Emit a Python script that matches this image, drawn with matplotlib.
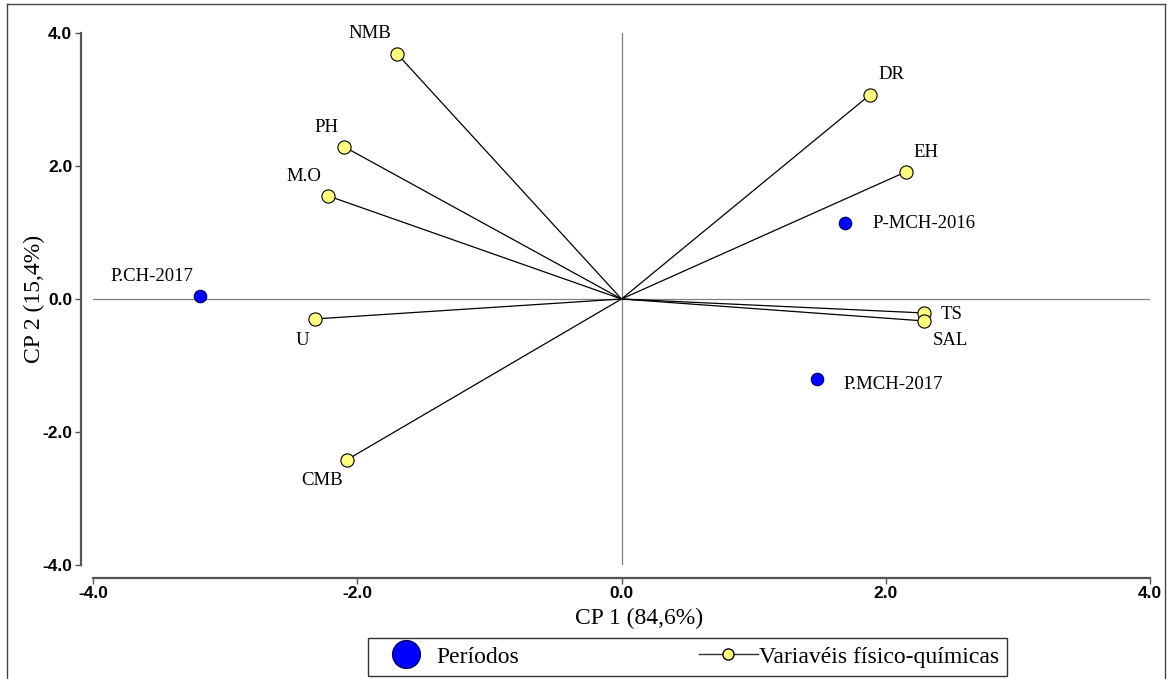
import matplotlib.pyplot as plt
from matplotlib.lines import Line2D

# Scores dos períodos (CP1, CP2)
periodos = ['P.CH-2017', 'P-MCH-2016', 'P.MCH-2017']
per_cp1 = [-3.19, 1.69, 1.48]
per_cp2 = [0.05, 1.14, -1.20]

# Cargas das variáveis físico-químicas (CP1, CP2)
variaveis = ['NMB', 'PH', 'M.O', 'U', 'CMB', 'DR', 'EH', 'TS', 'SAL']
var_cp1 = [-1.70, -2.10, -2.22, -2.32, -2.08, 1.88, 2.15, 2.29, 2.29]
var_cp2 = [3.69, 2.29, 1.55, -0.30, -2.42, 3.07, 1.91, -0.21, -0.33]

ticks = [-4.0, -2.0, 0.0, 2.0, 4.0]

# deslocamento dos rótulos em pixels
off_var = [(-27, 20), (-18, 19), (-24, 19), (-13, -22), (-25, -21),
           (22, 20), (20, 19), (27, -2), (26, -20)]
off_per = [(-48, 19), (79, 0), (76, -6)]

serif = ['Liberation Serif', 'DejaVu Serif']
sans = ['Liberation Sans', 'DejaVu Sans']

fig = plt.figure(figsize=(11.68, 6.79), dpi=100)
ax = fig.add_axes([93 / 1168, 1 - 565 / 679, (1150 - 93) / 1168, (565 - 33) / 679])

# eixos deslocados para fora (antes de configurar os ticks)
for s in ['top', 'right']:
    ax.spines[s].set_visible(False)
for s in ['left', 'bottom']:
    ax.spines[s].set_position(('outward', 9))
    ax.spines[s].set_color('#555555')
    ax.spines[s].set_linewidth(1.6)

ax.axhline(0, color='#808080', lw=0.9, zorder=1)
ax.axvline(0, color='#808080', lw=0.9, zorder=1)

for x, y in zip(var_cp1, var_cp2):
    ax.plot([0, x], [0, y], color='black', lw=0.9, zorder=2)
ax.plot(var_cp1, var_cp2, 'o', ms=9.5, mfc='#ffff80', mec='black', mew=0.8,
        ls='none', zorder=3)
ax.plot(per_cp1, per_cp2, 'o', ms=9, mfc='#0000ff', mec='#000060', mew=0.8,
        ls='none', zorder=3)

for nome, x, y, off in zip(variaveis, var_cp1, var_cp2, off_var):
    ax.annotate(nome, (x, y), xytext=off, textcoords='offset pixels',
                ha='center', va='center', fontsize=13.5, family=serif)
for nome, x, y, off in zip(periodos, per_cp1, per_cp2, off_per):
    ax.annotate(nome, (x, y), xytext=off, textcoords='offset pixels',
                ha='center', va='center', fontsize=13.5, family=serif)

ax.set_xlim(-4, 4)
ax.set_ylim(-4, 4)
ax.set_xticks(ticks)
ax.set_yticks(ticks)
ax.set_xticklabels([f'{t:.1f}' for t in ticks], family=sans, fontweight='bold', fontsize=12.5)
ax.set_yticklabels([f'{t:.1f}' for t in ticks], family=sans, fontweight='bold', fontsize=12.5)
ax.tick_params(direction='out', length=4, width=1, color='#555555', pad=2)

ax.set_xlabel('CP 1 (84,6%)', fontsize=17, family=serif, va='center')
ax.xaxis.set_label_coords(0.517, -0.1)
ax.set_ylabel('CP 2 (15,4%)', fontsize=17, family=serif, labelpad=-2)

handles = [
    Line2D([], [], marker='o', ls='none', ms=20, mfc='#0000ff', mec='#000060'),
    Line2D([], [], marker='o', color='#333333', lw=1, ms=8, mfc='#ffff80', mec='black'),
]
leg = fig.legend(handles, ['Períodos', 'Variavéis físico-químicas'],
                 loc='lower left', bbox_to_anchor=(368 / 1168, 3 / 679),
                 ncol=2, frameon=True, fancybox=False,
                 prop={'family': serif, 'size': 17}, handlelength=2.5,
                 handletextpad=0.05, borderpad=0.35, borderaxespad=0,
                 columnspacing=7.6)
leg.get_frame().set_edgecolor('black')
leg.get_frame().set_linewidth(1.0)

# moldura externa
for xs, ys in [([7, 7], [0, 675]), ([7, 1165], [675, 675]), ([1165, 1165], [0, 675])]:
    fig.add_artist(Line2D([x / 1168 for x in xs], [y / 679 for y in ys],
                          color='#444444', lw=1.0))

fig.savefig('out.png', dpi=100)
